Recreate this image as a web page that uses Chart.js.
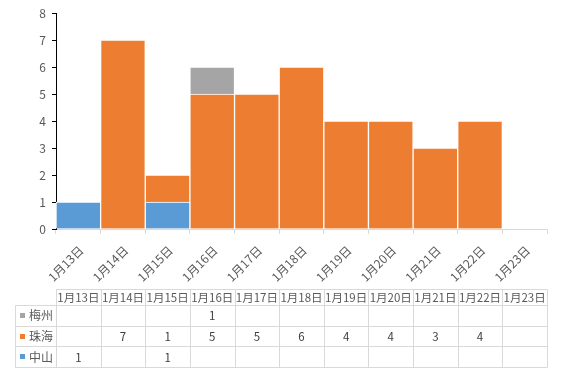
<!DOCTYPE html>
<html><head><meta charset="utf-8">
<script src="https://cdn.jsdelivr.net/npm/chart.js@4/dist/chart.umd.min.js"></script>
<style>html,body{margin:0;padding:0;background:#fff}#wrap{width:562px;height:382px}</style>
</head><body><div id="wrap"><canvas id="c" width="562" height="382"></canvas></div>
<script>
const categories = ['1月13日','1月14日','1月15日','1月16日','1月17日','1月18日','1月19日','1月20日','1月21日','1月22日','1月23日'];
const zhongshan = [1,null,1,null,null,null,null,null,null,null,null];
const zhuhai    = [null,7,1,5,5,6,4,4,3,4,null];
const meizhou   = [null,null,null,1,null,null,null,null,null,null,null];
const yTicks = [0,1,2,3,4,5,6,7,8];

const FONT = '"Noto Sans CJK SC","Microsoft YaHei",sans-serif';
const TXT = '#595959';

const series = [
  {name:'中山', data:zhongshan, color:'#5B9BD5'},
  {name:'珠海', data:zhuhai, color:'#ED7D31'},
  {name:'梅州', data:meizhou, color:'#A5A5A5'}
];

const tablePlugin = {
  id:'dataTable',
  afterDraw(chart){
    const ctx = chart.ctx, xs = chart.scales.x;
    const n = categories.length;
    const cw = (xs.right - xs.left)/n;
    const top = 288.5, hh = 16.5, rh = 20.7;
    const leftCol = 15.5;
    const rows = series.slice().reverse();
    const bottom = top + hh + rh*rows.length;
    ctx.save();
    ctx.strokeStyle = '#d9d9d9'; ctx.lineWidth = 1;
    const L = Math.round(xs.left)+0.5, R = Math.round(xs.right)+0.5;
    ctx.beginPath();
    ctx.moveTo(L, Math.round(top)+0.5); ctx.lineTo(R, Math.round(top)+0.5);
    for (let r=0;r<=rows.length;r++){
      const y = Math.round(top+hh+r*rh)+0.5;
      ctx.moveTo(leftCol, y); ctx.lineTo(R, y);
    }
    ctx.moveTo(leftCol, Math.round(top+hh)+0.5); ctx.lineTo(leftCol, Math.round(bottom)+0.5);
    for (let i=0;i<=n;i++){
      const x = Math.round(xs.getPixelForValue(0) - cw/2 + i*cw)+0.5;
      ctx.moveTo(x, Math.round(top)+0.5); ctx.lineTo(x, Math.round(bottom)+0.5);
    }
    ctx.stroke();
    ctx.font = '11.5px '+FONT; ctx.fillStyle = TXT;
    ctx.textAlign='center'; ctx.textBaseline='middle';
    categories.forEach((c,i)=>{
      ctx.fillText(c, xs.getPixelForValue(i), top+hh/2+0.5);
    });
    rows.forEach((s,r)=>{
      const yc = top+hh+r*rh+rh/2+0.5;
      ctx.fillStyle = s.color;
      ctx.fillRect(20, Math.round(yc)-3, 5, 5);
      ctx.fillStyle = TXT; ctx.textAlign='left'; ctx.font='12px '+FONT;
      ctx.fillText(s.name, 29, yc);
      ctx.textAlign='center'; ctx.font='11.5px '+FONT; ctx.fillStyle='#404040';
      s.data.forEach((v,i)=>{
        if (v!==null && v!==undefined) ctx.fillText(String(v), xs.getPixelForValue(i), yc);
      });
    });
    ctx.restore();
  }
};

new Chart(document.getElementById('c'), {
  type:'bar',
  data:{
    labels:categories,
    datasets: series.map(s=>({label:s.name, data:s.data, backgroundColor:s.color, borderColor:'#ffffff', borderWidth:1, barPercentage:1, categoryPercentage:1}))
  },
  options:{
    responsive:false, animation:false,
    layout:{padding:{left:0,right:15,top:11,bottom:0}},
    plugins:{legend:{display:false}, tooltip:{enabled:false}},
    scales:{
      x:{stacked:true,
        grid:{drawOnChartArea:false, color:'#d9d9d9', tickLength:5, offset:true},
        border:{color:'#d9d9d9'},
        ticks:{maxRotation:45, minRotation:45, color:TXT, font:{family:FONT,size:12}, padding:9, labelOffset:3},
        afterFit(s){ s.height = 153; }
      },
      y:{stacked:true, min:0, max:8,
        afterBuildTicks(s){ s.ticks = yTicks.map(v=>({value:v})); },
        grid:{drawOnChartArea:false, color:'#000', tickLength:4},
        border:{color:'#000'},
        ticks:{color:TXT, font:{family:FONT,size:12}, padding:6},
        afterFit(s){ s.width = 56; }
      }
    }
  },
  plugins:[tablePlugin]
});
</script></body></html>
